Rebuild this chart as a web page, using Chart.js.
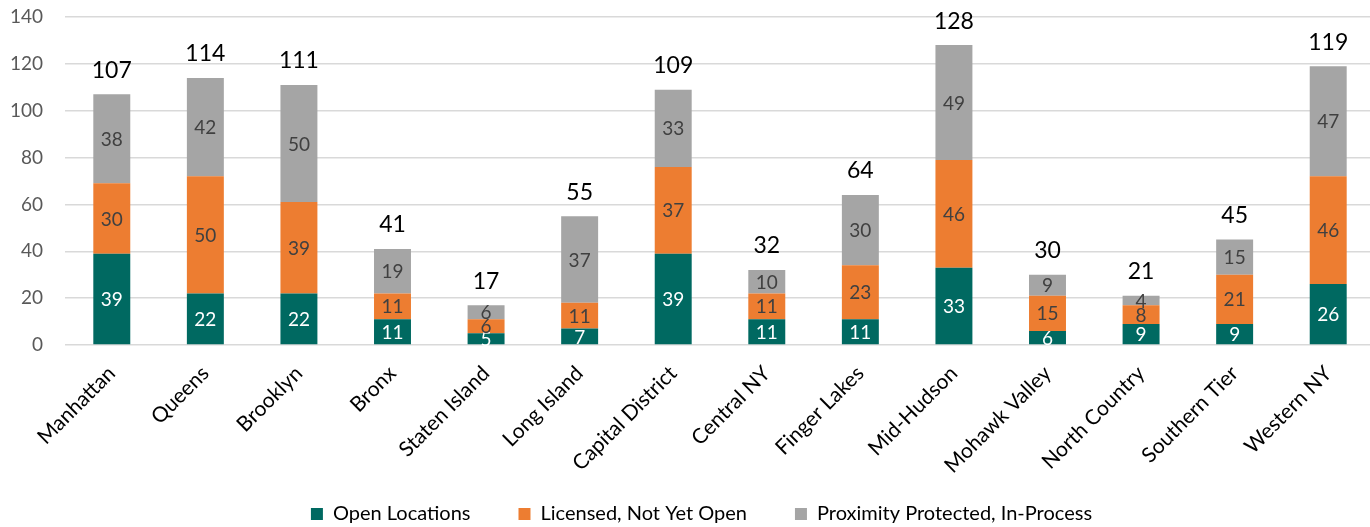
<!DOCTYPE html>
<html>
<head>
<meta charset="utf-8">
<script src="https://cdn.jsdelivr.net/npm/chart.js@4"></script>
<style>
html,body{margin:0;padding:0;background:#fff;overflow:hidden;width:1370px;height:527px;position:relative;}
#wrap{width:1376px;height:538px;position:absolute;left:0;top:-4px;}
</style>
</head>
<body>
<div id="wrap"><canvas id="c"></canvas></div>
<script>
const categories = ["Manhattan","Queens","Brooklyn","Bronx","Staten Island","Long Island","Capital District","Central NY","Finger Lakes","Mid-Hudson","Mohawk Valley","North Country","Southern Tier","Western NY"];
const openLocations = [39,22,22,11,5,7,39,11,11,33,6,9,9,26];
const licensedNotOpen = [30,50,39,11,6,11,37,11,23,46,15,8,21,46];
const proximityProtected = [38,42,50,19,6,37,33,10,30,49,9,4,15,47];
const totals = [107,114,111,41,17,55,109,32,64,128,30,21,45,119];
const yTicks = [0,20,40,60,80,100,120,140];

const FONT = "Lato, 'Open Sans', sans-serif";

const labelPlugin = {
  id: 'labels',
  afterLayout(chart) {
    chart.scales.x.bottom = chart.height;
    chart.scales.y.left = 0;
  },
  afterDatasetsDraw(chart) {
    const ctx = chart.ctx;
    ctx.save();
    ctx.textAlign = 'center';
    ctx.textBaseline = 'middle';
    chart.data.datasets.forEach((ds, di) => {
      const meta = chart.getDatasetMeta(di);
      meta.data.forEach((bar, i) => {
        const v = ds.data[i];
        const yc = (bar.y + bar.base) / 2;
        ctx.font = "19px " + FONT;
        ctx.fillStyle = di === 0 ? '#ffffff' : '#404040';
        ctx.fillText(String(v), bar.x, yc + 1);
      });
    });
    const ys = chart.scales.y;
    const meta0 = chart.getDatasetMeta(0);
    ctx.font = "23px " + FONT;
    ctx.fillStyle = '#000000';
    totals.forEach((t, i) => {
      const x = meta0.data[i].x;
      const y = ys.getPixelForValue(t);
      ctx.fillText(String(t), x, y - 24);
    });
    ctx.restore();
  }
};

new Chart(document.getElementById('c'), {
  type: 'bar',
  data: {
    labels: categories,
    datasets: [
      {label: 'Open Locations', data: openLocations, backgroundColor: '#006961'},
      {label: 'Licensed, Not Yet Open', data: licensedNotOpen, backgroundColor: '#ED7D31'},
      {label: 'Proximity Protected, In-Process', data: proximityProtected, backgroundColor: '#A5A5A5'}
    ]
  },
  options: {
    responsive: true,
    maintainAspectRatio: false,
    animation: false,
    devicePixelRatio: 1,
    layout: {padding: {top: 21, right: 1, left: 28, bottom: 0}},
    datasets: {bar: {categoryPercentage: 1.0, barPercentage: 0.395}},
    scales: {
      x: {
        stacked: true,
        grid: {display: false},
        border: {display: false},
        ticks: {color: '#000', font: {family: FONT, size: 21}, maxRotation: 45, minRotation: 45, padding: 8},
        afterFit: (s) => { s.height = 111; s.paddingLeft = 0; s.paddingRight = 0; s.paddingTop = 0; s.paddingBottom = 0; }
      },
      y: {
        stacked: true,
        min: 0, max: 140,
        afterBuildTicks: (s) => { s.ticks = yTicks.map(v => ({value: v})); },
        grid: {color: '#D9D9D9', lineWidth: 1.5, drawTicks: false},
        border: {display: false},
        ticks: {color: '#595959', font: {family: FONT, size: 19}, padding: 22},
        afterFit: (s) => { s.width = 37; s.paddingTop = 0; s.paddingBottom = 0; }
      }
    },
    plugins: {
      legend: {
        position: 'bottom',
        labels: {color: '#000', font: {family: FONT, size: 20}, boxWidth: 12, boxHeight: 12, padding: 48}
      },
      tooltip: {enabled: false}
    }
  },
  plugins: [labelPlugin]
});
</script>
</body>
</html>
